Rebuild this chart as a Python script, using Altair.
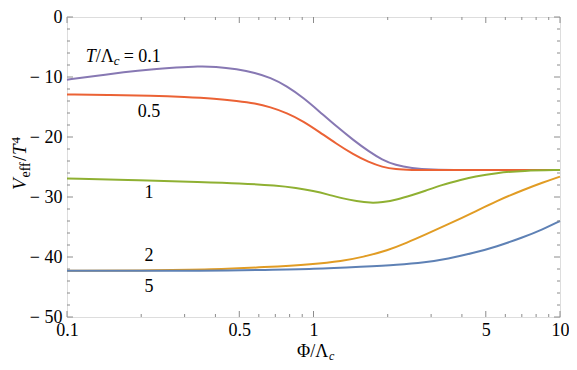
import altair as alt
import pandas as pd

# ---- data ----
x_01 = [0.1, 0.13, 0.17, 0.22, 0.28, 0.34, 0.4, 0.49, 0.58, 0.667, 0.78, 0.912, 1.06, 1.236, 1.45, 1.675, 1.9, 2.15, 2.5, 3.0, 4.0, 6.0, 10]
y_01 = [-10.45, -9.85, -9.2, -8.7, -8.4, -8.2, -8.25, -8.7, -9.3, -10.1, -11.5, -13.5, -15.8, -18.2, -20.5, -22.4, -23.8, -24.7, -25.2, -25.45, -25.5, -25.5, -25.5]

x_05 = [0.1, 0.15, 0.22, 0.3, 0.4, 0.49, 0.58, 0.667, 0.78, 0.912, 1.06, 1.236, 1.45, 1.675, 1.9, 2.15, 2.5, 3.0, 4, 6, 10]
y_05 = [-12.9, -13.0, -13.1, -13.3, -13.6, -14.0, -14.4, -15.0, -16.0, -17.4, -19.2, -21.1, -22.9, -24.2, -25.0, -25.4, -25.5, -25.5, -25.5, -25.5, -25.5]

x_1 = [0.1, 0.2, 0.35, 0.5, 0.71, 0.85, 1.0, 1.15, 1.3, 1.5, 1.7, 1.9, 2.2, 2.5, 2.83, 3.3, 4.0, 4.49, 5.5, 7.1, 10]
y_1 = [-26.9, -27.2, -27.5, -27.7, -28.1, -28.5, -29.0, -29.6, -30.2, -30.7, -31.0, -30.9, -30.4, -29.7, -29.0, -28.0, -27.1, -26.6, -26.0, -25.6, -25.5]

x_2 = [0.1, 0.2, 0.4, 0.63, 1.0, 1.3, 1.585, 2.0, 2.4, 2.83, 3.5, 4.49, 5.5, 7.11, 8.5, 10]
y_2 = [-42.3, -42.25, -42.1, -41.7, -41.2, -40.7, -40.0, -38.9, -37.6, -36.3, -34.6, -32.5, -30.7, -28.8, -27.6, -26.6]

x_5 = [0.1, 0.4, 0.63, 1.0, 1.585, 2.2, 2.83, 3.5, 4.49, 5.5, 7.11, 8.5, 10]
y_5 = [-42.3, -42.3, -42.15, -42.0, -41.6, -41.3, -40.9, -40.3, -39.3, -38.3, -36.7, -35.4, -34.0]

series_names = ["0.1", "0.5", "1", "2", "5"]
series_colors = ["#8778B3", "#EB6235", "#8FB032", "#E19C24", "#5E81B5"]

label_text = ["0.5", "1", "2", "5"]
label_x = [0.215, 0.215, 0.215, 0.215]
label_y = [-15.8, -29.3, -39.8, -45.0]

x_major = [0.1, 0.5, 1, 5, 10]
x_minor = [0.2, 0.3, 0.4, 0.6, 0.7, 0.8, 0.9, 2, 3, 4, 6, 7, 8, 9]
y_major = [-50, -40, -30, -20, -10, 0]
y_minor = [v for v in range(-48, 0, 2) if v % 10 != 0]

# ---- build tables ----
rows = []
for name, xs_, ys_ in zip(series_names, [x_01, x_05, x_1, x_2, x_5], [y_01, y_05, y_1, y_2, y_5]):
    for i, (a, b) in enumerate(zip(xs_, ys_)):
        rows.append({"series": name, "phi": a, "v": b, "order": i})
df = pd.DataFrame(rows)

W, H = 493, 300
FONT = "Liberation Serif"
xs = alt.Scale(type="log", domain=[0.1, 10], nice=False)
ys = alt.Scale(domain=[-50, 0], nice=False, zero=False)

lines = alt.Chart(df).mark_line(strokeWidth=2, interpolate="basis").encode(
    x=alt.X("phi:Q", scale=xs, axis=alt.Axis(values=x_major, format="~g", ticks=False, domain=False,
                                             grid=False, title=None, labelFont=FONT, labelFontSize=18,
                                             labelColor="black", labelPadding=4, labelFlush=False,
                                             labelOverlap=False)),
    y=alt.Y("v:Q", scale=ys, axis=alt.Axis(values=y_major, ticks=False, domain=False, grid=False,
                                           title=None, labelFont=FONT, labelFontSize=18, labelColor="black",
                                           labelPadding=5, labelFlush=False, labelOverlap=False,
                                           labelExpr="datum.value < 0 ? '\u2212 ' + abs(datum.value) : datum.label")),
    color=alt.Color("series:N", scale=alt.Scale(domain=series_names, range=series_colors), legend=None),
    order="order:Q",
)

TICKC = "#8c8c8c"
xmaj = pd.DataFrame({"t": x_major})
xmin = pd.DataFrame({"t": x_minor})
ymaj = pd.DataFrame({"t": y_major})
ymin = pd.DataFrame({"t": y_minor})

def xticks(d, L):
    b = alt.Chart(d).mark_rule(color=TICKC, strokeWidth=1).encode(
        x=alt.X("t:Q", scale=xs), y=alt.value(H), y2=alt.value(H - L))
    t = alt.Chart(d).mark_rule(color=TICKC, strokeWidth=1).encode(
        x=alt.X("t:Q", scale=xs), y=alt.value(0), y2=alt.value(L))
    return [b, t]

def yticks(d, L):
    l = alt.Chart(d).mark_rule(color=TICKC, strokeWidth=1).encode(
        y=alt.Y("t:Q", scale=ys), x=alt.value(0), x2=alt.value(L))
    r = alt.Chart(d).mark_rule(color=TICKC, strokeWidth=1).encode(
        y=alt.Y("t:Q", scale=ys), x=alt.value(W), x2=alt.value(W - L))
    return [l, r]

tick_layers = xticks(xmaj, 6) + xticks(xmin, 3) + yticks(ymaj, 6) + yticks(ymin, 3)

ldf = pd.DataFrame({"x": label_x, "y": label_y, "t": label_text})
labels = alt.Chart(ldf).mark_text(font=FONT, fontSize=18, color="black", baseline="middle").encode(
    x=alt.X("x:Q", scale=xs), y=alt.Y("y:Q", scale=ys), text="t:N")

# T/Λc = 0.1 label composed of pieces, anchored at a data position
one = pd.DataFrame({"x": [0.1191], "y": [-6.7]})
def piece(txt, dx, dy=0, size=18, style="normal"):
    return alt.Chart(one).mark_text(text=txt, font=FONT, fontSize=size, fontStyle=style, color="black",
                                    align="left", baseline="middle", dx=dx, dy=dy).encode(
        x=alt.X("x:Q", scale=xs), y=alt.Y("y:Q", scale=ys))

tlabel = [piece("T", 0, style="italic"), piece("/\u039b", 10), piece("c", 28, 4, 13, "italic"),
          piece("= 0.1", 38)]

dummy = pd.DataFrame({"a": [0]})
def ptext(txt, x, y, size, style="normal", angle=0, baseline="alphabetic"):
    return alt.Chart(dummy).mark_text(text=txt, font=FONT, fontSize=size, fontStyle=style, color="black",
                                      align="left", baseline=baseline, angle=angle).encode(
        x=alt.value(x), y=alt.value(y))

xtitle = [ptext("\u03a6/\u039b", 230, 340, 18), ptext("c", 262, 342.5, 12, "italic")]
ytitle = [ptext("V", -41, 173, 19, "italic", 270), ptext("eff", -37, 160.5, 14, "normal", 270),
          ptext("/", -41, 144, 19, "normal", 270), ptext("T", -41, 138, 19, "italic", 270),
          ptext("4", -47, 126.5, 13, "normal", 270)]

chart = alt.layer(lines, *tick_layers, labels, *tlabel, *xtitle, *ytitle).properties(
    width=W, height=H,
    autosize=alt.AutoSizeParams(type="none"),
    padding={"left": 59, "top": 9, "right": 9, "bottom": 45},
).configure_view(stroke="#555555", strokeWidth=1).configure(background="white")

chart.save("out.html", embed_options={"renderer": "svg", "actions": False})
